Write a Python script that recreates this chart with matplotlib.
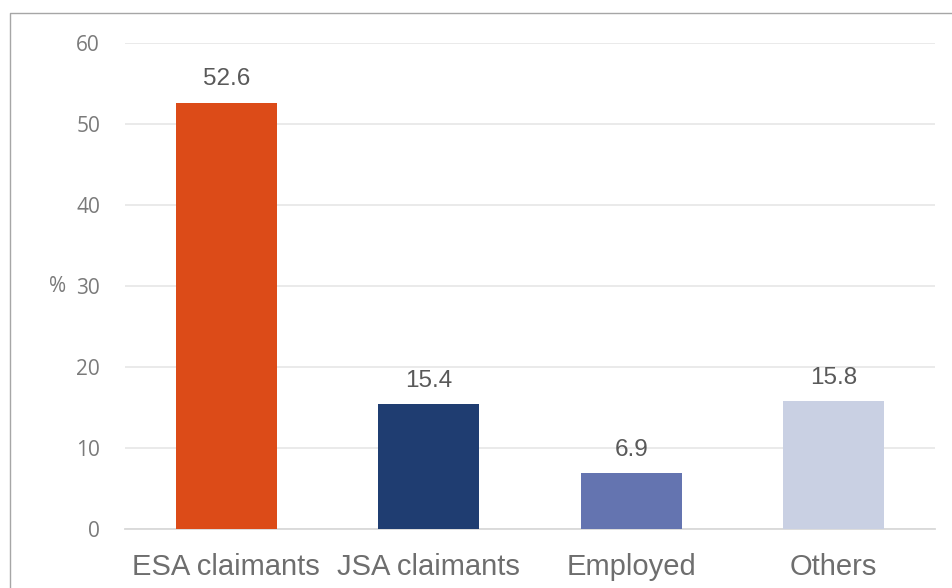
import matplotlib.pyplot as plt
from matplotlib.lines import Line2D

# share of participants by status (%)
categories = ['ESA claimants', 'JSA claimants', 'Employed', 'Others']
values = [52.6, 15.4, 6.9, 15.8]
bar_colours = ['#DC4B18', '#1F3D71', '#6474B0', '#C9D0E3']
yticks = [0, 10, 20, 30, 40, 50, 60]

W, H = 952, 588
fig = plt.figure(figsize=(W / 100, H / 100), dpi=100)
ax = fig.add_axes([125 / W, 1 - 529 / H, 810 / W, (529 - 43) / H])

x = range(len(categories))
ax.bar(x, values, width=0.5, color=bar_colours, zorder=3)

for xi, v in zip(x, values):
    ax.annotate(f'{v:.1f}', (xi, v), xytext=(0, 9), textcoords='offset points',
                ha='center', va='bottom', fontsize=17.5, color='#595959',
                family='Liberation Sans')

ax.set_xlim(-0.5, 3.5)
ax.set_ylim(0, 60)
ax.set_yticks(yticks)
ax.set_yticklabels([str(t) for t in yticks], family='Open Sans', fontsize=15, color='#7a7a7a')
ax.set_xticks(list(x))
ax.set_xticklabels(categories, family='Liberation Sans', fontsize=21, color='#6e6e6e')
ax.tick_params(axis='both', length=0)
ax.tick_params(axis='y', pad=18)
ax.tick_params(axis='x', pad=17.5)

ax.grid(axis='y', color='#E8E8E8', linewidth=1.3, zorder=0)
for s in ['top', 'right', 'left']:
    ax.spines[s].set_visible(False)
ax.spines['bottom'].set_color('#D9D9D9')
ax.spines['bottom'].set_linewidth(1.3)

fig.text(57.5 / W, 1 - 287 / H, '%', ha='center', va='center', family='Open Sans',
         fontsize=15, color='#7a7a7a')

# outer frame (left and top edges)
fig.add_artist(Line2D([9.5 / W, 9.5 / W, 1], [0, 1 - 12.5 / H, 1 - 12.5 / H],
                      transform=fig.transFigure, color='#A6A6A6', linewidth=1))

fig.savefig('out.png', dpi=100)
